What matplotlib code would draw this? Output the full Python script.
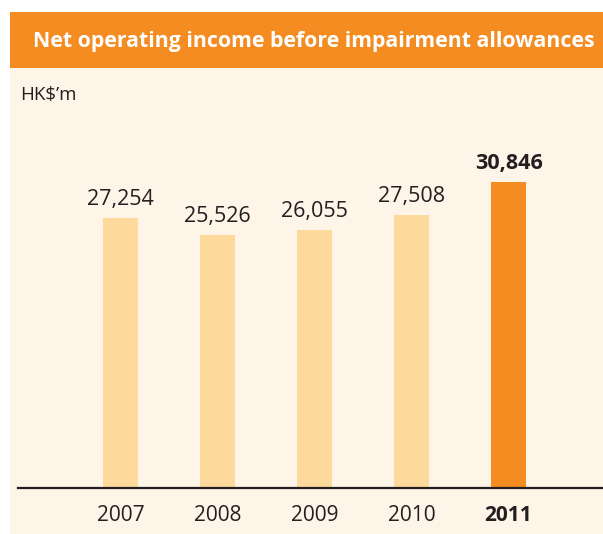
import matplotlib
matplotlib.use("Agg")
import matplotlib.pyplot as plt
from matplotlib.patches import Rectangle

years = ["2007", "2008", "2009", "2010", "2011"]
values = [27254, 25526, 26055, 27508, 30846]
value_labels = ["27,254", "25,526", "26,055", "27,508", "30,846"]
title = "Net operating income before impairment allowances"
unit_label = "HK$\u2019m"

W, H = 603, 534
ORANGE = "#F58C21"
LIGHT = "#FDD99B"
CREAM = "#FEF5E8"
DARK = "#231F20"
FONT = "Open Sans"

fig = plt.figure(figsize=(W / 100, H / 100), dpi=100)
fig.patch.set_facecolor("white")

# cream panel and header band (figure pixel coords converted to fractions)
fig.patches.append(Rectangle((10 / W, 0), 1 - 10 / W, (H - 68) / H,
                             transform=fig.transFigure, facecolor=CREAM,
                             edgecolor="none", zorder=-2))
fig.patches.append(Rectangle((10 / W, (H - 68) / H), 1 - 10 / W, 56 / H,
                             transform=fig.transFigure, facecolor=ORANGE,
                             edgecolor="none", zorder=-2))
fig.text(33 / W, (H - 41) / H, title, color="white", fontsize=15.3,
         fontweight="bold", family=FONT, va="center", ha="left")
fig.text(20 / W, (H - 95) / H, unit_label, color=DARK, fontsize=13.5,
         family=FONT, va="center", ha="left")

# axes: left at px 18, baseline at px 488 from top, top at px 100
ax_left, ax_right = 18, 603
ax_bottom, ax_top = H - 488, H - 100
ax = fig.add_axes([ax_left / W, ax_bottom / H, (ax_right - ax_left) / W,
                   (ax_top - ax_bottom) / H])
ax.set_zorder(5)
ax.set_facecolor("none")
px_per_unit = 306 / 30846
ax.set_ylim(0, (ax_top - ax_bottom) / px_per_unit)
spacing = 97.0
ax.set_xlim(-102.5 / spacing, -102.5 / spacing + (ax_right - ax_left) / spacing)

xs = list(range(len(years)))
colors = [LIGHT] * (len(years) - 1) + [ORANGE]
ax.bar(xs, values, width=35 / spacing, color=colors, zorder=2)

for x, v, lab, yr in zip(xs, values, value_labels, years):
    bold = (yr == years[-1])
    ax.annotate(lab, (x, v), xytext=(0, 13), textcoords="offset pixels",
                ha="center", va="baseline", fontsize=15.5, family=FONT,
                fontweight="bold" if bold else "normal", color=DARK)
    ax.annotate(yr, (x, 0), xytext=(0, -33), textcoords="offset pixels",
                ha="center", va="baseline", fontsize=15, family=FONT,
                fontweight="bold" if bold else "normal", color=DARK,
                annotation_clip=False)

for s in ["top", "right", "left"]:
    ax.spines[s].set_visible(False)
ax.spines["bottom"].set_color(DARK)
ax.spines["bottom"].set_linewidth(1.6)
ax.spines["bottom"].set_zorder(3)
ax.set_xticks([])
ax.set_yticks([])

fig.savefig("out.png", dpi=100, facecolor=fig.get_facecolor())
